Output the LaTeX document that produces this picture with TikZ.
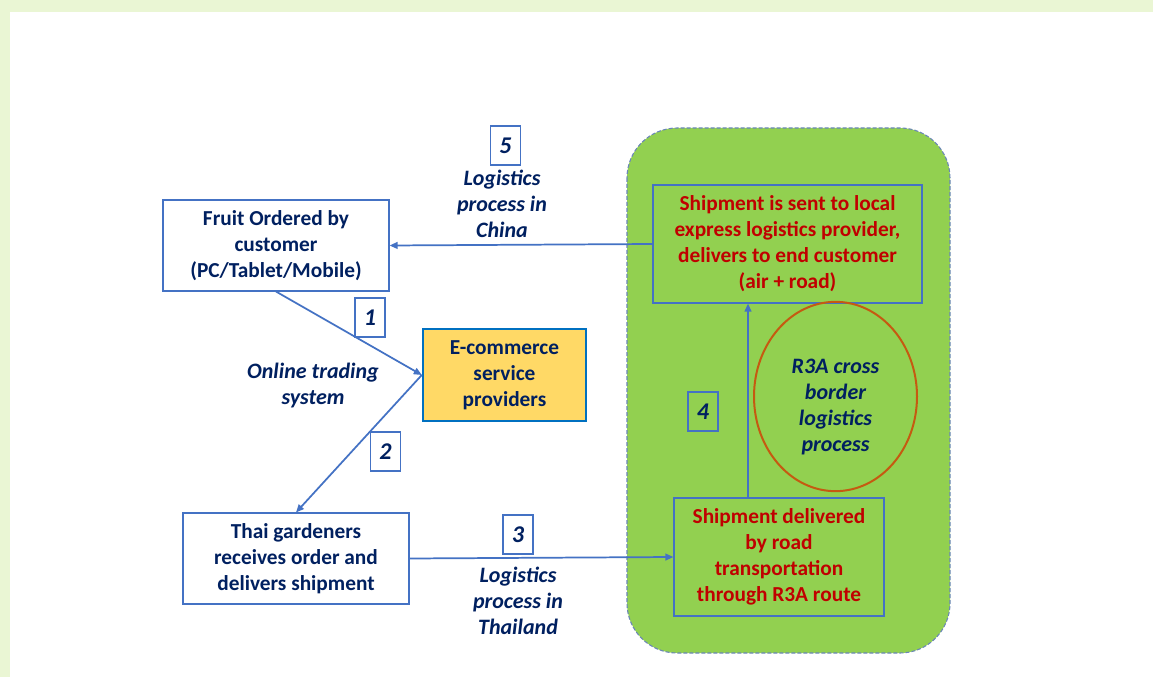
\documentclass[tikz,border=0pt]{standalone}
\usepackage{fontspec}
\setmainfont{Carlito}
\usetikzlibrary{arrows.meta,shapes.geometric}
\definecolor{navy}{HTML}{002060}
\definecolor{darkred}{HTML}{C00000}
\definecolor{lineblue}{HTML}{4472C4}
\definecolor{ecomblue}{HTML}{0070C0}
\definecolor{leaf}{HTML}{92D050}
\definecolor{paleleaf}{HTML}{EAF6D4}
\definecolor{rust}{HTML}{C55A11}
\definecolor{gold}{HTML}{FFD966}
\definecolor{dashblue}{HTML}{6A86B8}

\begin{document}
\begin{tikzpicture}[x=0.75pt, y=-0.75pt]
	\tikzstyle{every node} = [rectangle, font=\fontsize{16pt}{19.5pt}\selectfont\bfseries]
	\tikzstyle{stage}  = [draw=lineblue, line width=0.8pt, fill=white, text=navy, align=center, minimum width=169.5pt, minimum height=68.25pt, inner sep=0pt]
	\tikzstyle{china}  = [draw=lineblue, line width=0.8pt, text=darkred, align=center, minimum height=88.5pt, inner sep=0pt]
	\tikzstyle{num}    = [draw=lineblue, line width=0.8pt, fill=white, text=navy, minimum width=22.5pt, minimum height=29.25pt, inner sep=0pt, font=\fontsize{18pt}{20pt}\selectfont\bfseries\itshape]
	\tikzstyle{route}  = [text=navy, align=center, font=\fontsize{16.5pt}{19.5pt}\selectfont\bfseries\itshape]
	\tikzstyle{flow}   = [draw=lineblue, line width=1.3pt, -{Triangle[length=6pt,width=5pt]}]

	% frame and border zone
	\fill[paleleaf] (0,0) rectangle (1153,677);
	\fill[white] (10,12) rectangle (1153,677);
	\draw[dashblue, fill=leaf, line width=0.8pt, dash pattern=on 3pt off 1.5pt, rounded corners=37.5pt] (627,128) rectangle (950,653);

	% nodes
	\node[stage] (fruit)   at (276, 245.5) {Fruit Ordered by\\customer\\(PC/Tablet/Mobile)};
	\node[stage, fill=gold, draw=ecomblue, line width=1.8pt, minimum width=122.25pt, minimum height=69pt] (ecom) at (504.5, 375) {E-commerce\\service\\providers};
	\node[stage] (thai)    at (296, 558.5) {Thai gardeners\\receives order and\\delivers shipment};
	\node[china, minimum width=201.75pt] (express) at (787.5, 244) {Shipment is sent to local\\express logistics provider,\\delivers to end customer\\(air + road)};
	\node[china, minimum width=157.5pt] (road) at (779, 557) {Shipment delivered\\by road\\transportation\\through R3A route};
	\node[ellipse, draw=rust, line width=1.5pt, minimum width=122.25pt, minimum height=142pt, inner sep=0pt] (r3a) at (835.5, 396.5) {};
	\node[route] (r3atext) at ([yshift=-8pt]r3a.center) {R3A cross\\border\\logistics\\process};

	% step numbers
	\node[num] (n5) at (505.5, 145.5) {5};
	\node[num] (n1) at (370, 317.5) {1};
	\node[num] (n2) at (385.5, 451.5) {2};
	\node[num] (n3) at (518, 534.5) {3};
	\node[num, fill=none] (n4) at (703, 411.5) {4};

	% route labels
	\node[route] (lchina) at (502, 204) {Logistics\\process in\\China};
	\node[route] (lonline) at (313, 386) {Online trading\\system};
	\node[route] (lthai) at (518, 601) {Logistics\\process in\\Thailand};

	% connectors
	\coordinate (up) at (748, 0);
	\draw[flow] (express.west) -- (fruit.east);
	\draw[flow] (fruit.south) -- (ecom.west);
	\draw[flow] (ecom.west) -- (thai.north);
	\draw[flow] (thai.east) -- (road.west);
	\draw[flow] (road.north -| up) -- (express.south -| up);
\end{tikzpicture}
\end{document}
